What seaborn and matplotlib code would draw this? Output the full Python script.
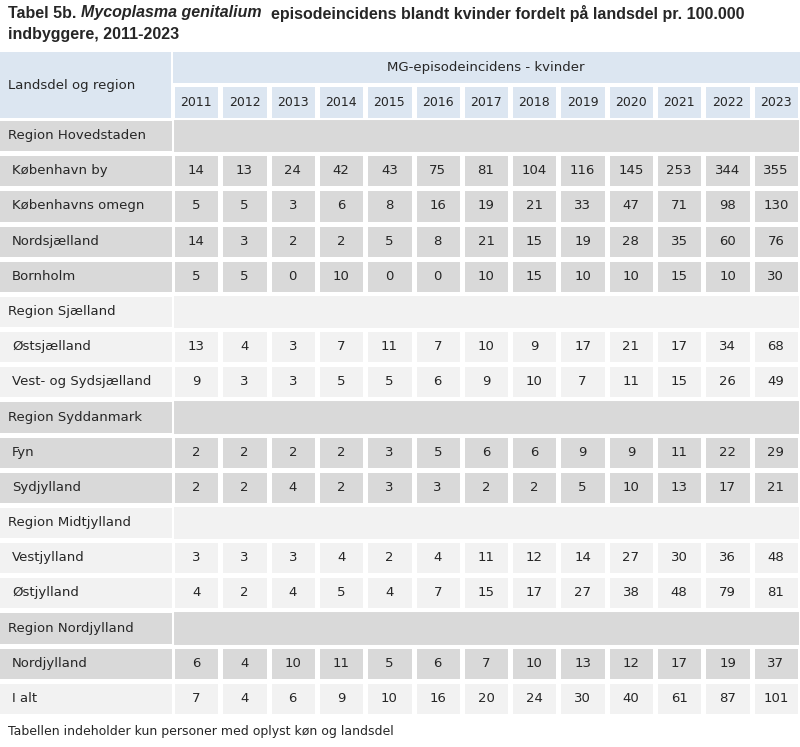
import numpy as np
import pandas as pd
import seaborn as sns
import matplotlib
matplotlib.use("Agg")
import matplotlib.pyplot as plt
from matplotlib.colors import ListedColormap
from matplotlib.patches import Rectangle

years = [2011, 2012, 2013, 2014, 2015, 2016, 2017, 2018, 2019, 2020, 2021, 2022, 2023]
row_labels = ["Region Hovedstaden", "København by", "Københavns omegn", "Nordsjælland", "Bornholm",
              "Region Sjælland", "Østsjælland", "Vest- og Sydsjælland",
              "Region Syddanmark", "Fyn", "Sydjylland",
              "Region Midtjylland", "Vestjylland", "Østjylland",
              "Region Nordjylland", "Nordjylland", "I alt"]
is_region = [True, False, False, False, False, True, False, False, True, False, False,
             True, False, False, True, False, False]
band = [1, 1, 1, 1, 1, 0, 0, 0, 1, 1, 1, 0, 0, 0, 1, 1, 0]
values = {
    "København by": [14, 13, 24, 42, 43, 75, 81, 104, 116, 145, 253, 344, 355],
    "Københavns omegn": [5, 5, 3, 6, 8, 16, 19, 21, 33, 47, 71, 98, 130],
    "Nordsjælland": [14, 3, 2, 2, 5, 8, 21, 15, 19, 28, 35, 60, 76],
    "Bornholm": [5, 5, 0, 10, 0, 0, 10, 15, 10, 10, 15, 10, 30],
    "Østsjælland": [13, 4, 3, 7, 11, 7, 10, 9, 17, 21, 17, 34, 68],
    "Vest- og Sydsjælland": [9, 3, 3, 5, 5, 6, 9, 10, 7, 11, 15, 26, 49],
    "Fyn": [2, 2, 2, 2, 3, 5, 6, 6, 9, 9, 11, 22, 29],
    "Sydjylland": [2, 2, 4, 2, 3, 3, 2, 2, 5, 10, 13, 17, 21],
    "Vestjylland": [3, 3, 3, 4, 2, 4, 11, 12, 14, 27, 30, 36, 48],
    "Østjylland": [4, 2, 4, 5, 4, 7, 15, 17, 27, 38, 48, 79, 81],
    "Nordjylland": [6, 4, 10, 11, 5, 6, 7, 10, 13, 12, 17, 19, 37],
    "I alt": [7, 4, 6, 9, 10, 16, 20, 24, 30, 40, 61, 87, 101],
}

GRAY, LIGHT, HEAD, TXT = "#d9d9d9", "#f2f2f2", "#dce6f1", "#262626"
cmap = ListedColormap([LIGHT, GRAY])
W, H = 800, 747
fig = plt.figure(figsize=(8.0, 7.47), dpi=100)

def fax(x0, y0, x1, y1):
    return fig.add_axes([x0 / W, 1 - y1 / H, (x1 - x0) / W, (y1 - y0) / H])

col_mat = pd.DataFrame([[b] * len(years) for b in band], index=row_labels, columns=years)
annot = np.array([[""] * len(years) if r else [str(v) for v in values[l]]
                  for l, r in zip(row_labels, is_region)], dtype=object)
mask = np.array([[r] * len(years) for r in is_region])

# data cells
ax = fax(172, 118, 800, 716)
sns.heatmap(col_mat, ax=ax, cmap=cmap, vmin=0, vmax=1, cbar=False, mask=mask,
            annot=annot, fmt="", linewidths=2.2, linecolor="white",
            annot_kws={"color": TXT, "fontsize": 9.5})
for i, r in enumerate(is_region):
    if r:
        ax.add_patch(Rectangle((0, i), len(years), 1, facecolor=GRAY if band[i] else LIGHT,
                               edgecolor="white", linewidth=2.2))
ax.set_xticks([]); ax.set_yticks([]); ax.set_xlabel(""); ax.set_ylabel("")

# label column
axl = fax(-3, 118, 174, 716)
sns.heatmap(pd.DataFrame({"c": band}, index=row_labels), ax=axl, cmap=cmap, vmin=0, vmax=1,
            cbar=False, linewidths=2.2, linecolor="white")
for i, (l, r) in enumerate(zip(row_labels, is_region)):
    axl.text(0.06 if r else 0.085, i + 0.5, l, ha="left", va="center", fontsize=9.5, color=TXT)
axl.set_xticks([]); axl.set_yticks([]); axl.set_xlabel(""); axl.set_ylabel("")

# year header row
axy = fax(172, 84, 800, 120)
sns.heatmap(pd.DataFrame([[0] * len(years)], columns=years), ax=axy,
            cmap=ListedColormap([HEAD]), cbar=False, linewidths=2.2, linecolor="white",
            annot=np.array([[str(y) for y in years]]), fmt="",
            annot_kws={"color": TXT, "fontsize": 9})
axy.set_xticks([]); axy.set_yticks([]); axy.set_xlabel(""); axy.set_ylabel("")

# merged header cells
axh = fax(0, 52, 800, 84)
axh.set_xlim(0, W); axh.set_ylim(84, 52); axh.axis("off")
axh.add_patch(Rectangle((173, 52), 627, 31, facecolor=HEAD, edgecolor="none"))
axh.text(486, 67.5, "MG-episodeincidens - kvinder", ha="center", va="center", fontsize=9.5, color=TXT)
axlh = fax(0, 52, 172, 119)
axlh.set_xlim(0, 172); axlh.set_ylim(119, 52); axlh.axis("off")
axlh.add_patch(Rectangle((0, 52), 171, 66, facecolor=HEAD, edgecolor="none"))
axlh.text(8, 85, "Landsdel og region", ha="left", va="center", fontsize=9.5, color=TXT)

# title
TF = "Liberation Sans"
fig.canvas.draw()
r = fig.canvas.get_renderer()
x = 8 / W
y1 = 1 - 13 / H
for s, st in [("Tabel 5b. ", "normal"), ("Mycoplasma genitalium", "italic"),
              ("  episodeincidens blandt kvinder fordelt på landsdel pr. 100.000", "normal")]:
    t = fig.text(x, y1, s, fontsize=11.5, fontweight="bold", style=st, color=TXT, va="center",
                 family=TF)
    bb = t.get_window_extent(renderer=r)
    x += bb.width / W
fig.text(8 / W, 1 - 34 / H, "indbyggere, 2011-2023", fontsize=11.5, fontweight="bold", color=TXT,
         va="center", family=TF)
fig.text(8 / W, 1 - 731 / H, "Tabellen indeholder kun personer med oplyst køn og landsdel",
         fontsize=9, color=TXT, va="center")

fig.savefig("out.png", dpi=100, facecolor="white")
